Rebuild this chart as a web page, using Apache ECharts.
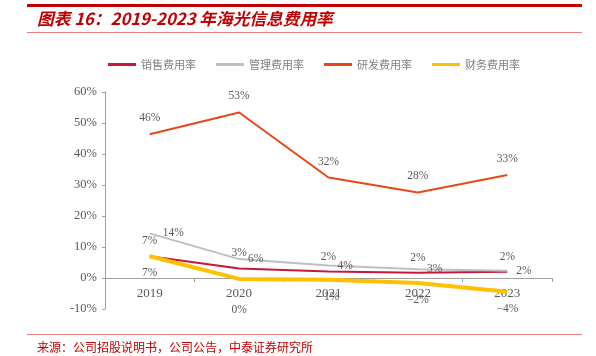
<!DOCTYPE html>
<html>
<head>
<meta charset="utf-8">
<script src="https://cdn.jsdelivr.net/npm/echarts@6/dist/echarts.min.js"></script>
<style>
html,body{margin:0;padding:0;background:#fff;}
#c{width:596px;height:356px;}
</style>
</head>
<body>
<div id="c"></div>
<script>
var categories = ['2019', '2020', '2021', '2022', '2023'];
var seriesNames = ['销售费用率', '管理费用率', '研发费用率', '财务费用率'];
var sales = [7.0, 3.1, 2.1, 1.7, 2.0];
var admin = [14.4, 6.1, 4.0, 2.8, 2.3];
var rnd = [46.4, 53.4, 32.4, 27.6, 33.2];
var finance = [7.0, -0.3, -0.6, -1.6, -4.4];
var yMin = -10, yMax = 60, yStep = 10;
var titleText = '图表 16：2019-2023 年海光信息费用率';
var sourceText = '来源：公司招股说明书，公司公告，中泰证券研究所';

var serif = "'Times New Roman','Liberation Serif',serif";
var cjk = "'Noto Sans CJK SC',sans-serif";

function fmt(p) {
  var v = Math.round(p.value);
  if (v === 0) return '0%';
  return (v < 0 ? '\u2212' + Math.abs(v) : v) + '%';
}
function lbl(pos, dist) {
  return { show: true, position: pos, distance: dist, formatter: fmt,
    color: '#595959', fontFamily: serif, fontSize: 11.5 };
}

var chart = echarts.init(document.getElementById('c'), null, { renderer: 'canvas' });
var finData = finance.map(function (v, i) {
  return i === 1 ? { value: v, label: { distance: 25 } } : v;
});
var adminData = admin.map(function (v, i) {
  return i === 0 ? { value: v, label: { distance: 13 } } : v;
});

function mk(name, data, color, width, label) {
  return { name: name, type: 'line', data: data, symbol: 'circle', symbolSize: 0.01,
    showSymbol: true,
    lineStyle: { color: color, width: width }, itemStyle: { color: color },
    label: label, emphasis: { disabled: true } };
}

chart.setOption({
  animation: false,
  backgroundColor: '#fff',
  graphic: [
    { type: 'rect', shape: { x: 27, y: 4, width: 555, height: 3 }, style: { fill: '#C00000' } },
    { type: 'text', left: 37, top: 10, style: { text: titleText, fill: '#C00000',
      font: "italic bold 16.7px 'Noto Sans CJK SC', sans-serif" } },
    { type: 'rect', shape: { x: 27, y: 32, width: 555, height: 1 }, style: { fill: '#E58080' } },
    { type: 'rect', shape: { x: 27, y: 334, width: 555, height: 1 }, style: { fill: '#E58080' } },
    { type: 'text', left: 37, top: 341, style: { text: sourceText, fill: '#C00000',
      font: "12px 'Noto Sans CJK SC', sans-serif" } }
  ],
  legend: {
    data: seriesNames,
    left: 103, top: 54,
    itemWidth: 28, itemHeight: 3, itemGap: 20,
    icon: 'rect',
    textStyle: { color: '#7f7f7f', fontSize: 11, fontFamily: cjk }
  },
  grid: { left: 105, right: 44, top: 92, bottom: 47, containLabel: false },
  xAxis: {
    type: 'category',
    data: categories,
    boundaryGap: true,
    axisLine: { onZero: true, lineStyle: { color: '#a0a0a0', width: 1 } },
    axisTick: { show: true, length: 4, lineStyle: { color: '#a0a0a0' } },
    axisLabel: { color: '#595959', fontFamily: serif, fontSize: 13, margin: -22 },
    splitLine: { show: false }
  },
  yAxis: {
    type: 'value',
    min: yMin, max: yMax, interval: yStep,
    axisLine: { show: true, lineStyle: { color: '#a0a0a0', width: 1 } },
    axisTick: { show: true, length: 3, lineStyle: { color: '#a0a0a0' } },
    axisLabel: { color: '#595959', fontFamily: serif, fontSize: 12.5, margin: 8, formatter: '{value}%' },
    splitLine: { show: false }
  },
  series: [
    mk(seriesNames[0], sales, '#C7173F', 2, lbl('top', 9)),
    mk(seriesNames[1], adminData, '#BFBFBF', 2, lbl('right', 9)),
    mk(seriesNames[2], rnd, '#E8471A', 2, lbl('top', 10)),
    mk(seriesNames[3], finData, '#FFC000', 4, lbl('bottom', 11))
  ]
});
</script>
</body>
</html>
